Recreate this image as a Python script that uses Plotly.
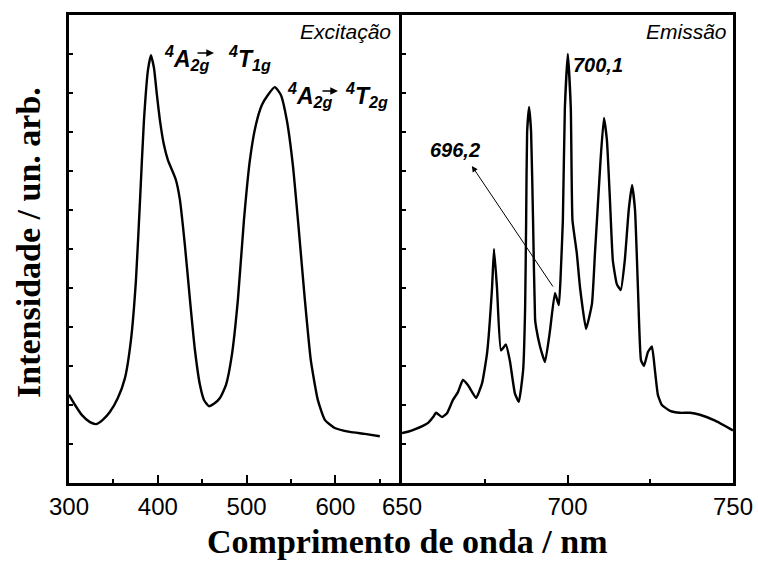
import plotly.graph_objects as go

# Excitation spectrum (left panel)
exc_wl = [300, 306.8, 314.6, 323.6, 330.4, 338, 346, 355, 363, 369.8, 375.4, 380, 384.4, 389, 392.3,
          395.7, 399, 402.4, 406.9, 411.4, 415.9, 420.4, 424.9, 430.5, 436.2, 441.8, 447.5, 452, 457.6,
          463.2, 470, 476.7, 483.4, 490.2, 497, 503.7, 510.4, 517.2, 524, 531.8, 538.6, 545.3, 552.1,
          558.8, 565.6, 572.3, 580.2, 588.1, 599.3, 616.2, 633.1, 650]
exc_int = [2.26, 2.0, 1.74, 1.56, 1.51, 1.62, 1.82, 2.18, 2.69, 3.67, 5.2, 7.26, 9.3, 10.6, 10.97,
           10.64, 9.95, 9.3, 8.67, 8.28, 8.03, 7.77, 7.26, 6.1, 4.7, 3.41, 2.51, 2.13, 1.97,
           2.03, 2.18, 2.51, 3.28, 4.7, 6.74, 8.28, 9.18, 9.69, 9.95, 10.15, 9.95, 9.3, 8.15,
           6.49, 4.7, 3.15, 2.13, 1.62, 1.41, 1.31, 1.26, 1.2]

# Emission spectrum (right panel)
emi_wl = [650, 652, 654, 656, 658, 659.4, 660.3, 662.1, 663.6, 665.4, 666.9, 668.4, 670, 672.4,
          674.2, 675.7, 677.2, 677.8, 678.7, 679.9, 681.4, 682.6, 684.1, 685.3, 686.6, 687.2, 687.5,
          687.8, 688.4, 689.0, 689.6, 690.2, 690.5, 691.7, 693.2, 694.7, 696.2, 697.4, 698.0, 698.6,
          699.2, 700.1, 701.0, 701.5, 702.8, 703.8, 705.6, 707.4, 708.3, 708.9, 710.0, 711.0, 711.9,
          712.8, 713.7, 714.9, 716.1, 717.3, 718.5, 719.5, 720.4, 721.3, 722.2, 723.1, 724.3, 725.5,
          726.4, 727.3, 728.5, 731, 734, 737, 740, 744.6, 750]
emi_int = [1.28, 1.32, 1.38, 1.45, 1.55, 1.69, 1.80, 1.69, 1.79, 2.13, 2.33, 2.64, 2.5, 2.18,
           2.56, 3.33, 5.0, 6.0, 5.0, 3.4, 3.55, 3.13, 2.3, 2.08, 2.9, 4.5, 6.7,
           9.0, 9.64, 9.0, 6.7, 4.2, 4.0, 3.5, 3.1, 3.9, 4.87, 4.56, 5.46, 6.74,
           9.6, 11.0, 9.6, 6.74, 5.9, 5.0, 3.95, 4.6, 5.9, 6.74, 8.3, 9.36, 8.8,
           7.3, 5.7, 5.1, 4.95, 5.7, 7.0, 7.64, 7.0, 4.95, 3.15, 3.0, 3.36, 3.5,
           2.9, 2.26, 2.0, 1.85, 1.8, 1.8, 1.75, 1.6, 1.35]

exc_ticks = [300, 400, 500, 600]
emi_ticks = [650, 700, 750]

W, H = 758, 564
L, R, T, B = 69, 733, 15, 483
split = (402 - L) / (R - L)


def px(x):
    return (x - L) / (R - L)


def py(y):
    return (B - y) / (B - T)


fig = go.Figure()
fig.add_trace(go.Scatter(x=exc_wl, y=exc_int, mode="lines", line=dict(color="black", width=2.4, shape="spline", smoothing=0.5),
                         xaxis="x", yaxis="y", showlegend=False))
fig.add_trace(go.Scatter(x=emi_wl, y=emi_int, mode="lines", line=dict(color="black", width=2.4, shape="spline", smoothing=0.4),
                         xaxis="x2", yaxis="y2", showlegend=False))

tickfont = dict(family="Arial, Liberation Sans, sans-serif", size=24, color="black")
axis_common = dict(showline=True, linecolor="black", linewidth=2.5, ticks="inside", tickcolor="black",
                   tickwidth=2, showgrid=False, zeroline=False, automargin=False)

fig.update_layout(
    width=W, height=H, margin=dict(l=L, r=W - R, t=T, b=H - B, autoexpand=False),
    paper_bgcolor="white", plot_bgcolor="white",
    xaxis=dict(domain=[0, split], range=[300, 675], tickvals=exc_ticks, ticklen=8, tickfont=tickfont,
               minor=dict(ticks="inside", dtick=50, tick0=300, ticklen=4, tickwidth=2, tickcolor="black"),
               mirror=True, anchor="y", **axis_common),
    xaxis2=dict(domain=[split, 1], range=[650, 750], tickvals=emi_ticks, ticklen=8, tickfont=tickfont,
                minor=dict(ticks="inside", dtick=25, tick0=650, ticklen=4, tickwidth=2, tickcolor="black"),
                mirror=True, anchor="y2", **axis_common),
    yaxis=dict(range=[0, 12], dtick=1, ticklen=4, showticklabels=False, mirror=False, anchor="x", **axis_common),
    yaxis2=dict(range=[0, 12], dtick=1, ticklen=4, showticklabels=False, mirror=True, anchor="x2", **axis_common),
)

sans_i = dict(family="Arial, Liberation Sans, sans-serif", size=21, color="black")
ann = []
ann.append(dict(text="<i>Excitação</i>", x=px(393), y=py(32), xanchor="right", yanchor="middle", font=sans_i))
ann.append(dict(text="<i>Emissão</i>", x=px(729), y=py(32), xanchor="right", yanchor="middle", font=sans_i))

bi = dict(family="Arial, Liberation Sans, sans-serif", size=23, color="black")
ann.append(dict(text="<b><i><sup>4</sup>A<sub>2g</sub></i></b>", x=px(162), y=py(58), xanchor="left", yanchor="middle", font=bi))
ann.append(dict(text="<b><i><sup>4</sup>T<sub>1g</sub></i></b>", x=px(226), y=py(58), xanchor="left", yanchor="middle", font=bi))
ann.append(dict(text="<b><i><sup>4</sup>A<sub>2g</sub></i></b>", x=px(285), y=py(95), xanchor="left", yanchor="middle", font=bi))
ann.append(dict(text="<b><i><sup>4</sup>T<sub>2g</sub></i></b>", x=px(343), y=py(95), xanchor="left", yanchor="middle", font=bi))

lab = dict(family="Arial, Liberation Sans, sans-serif", size=20, color="black")
ann.append(dict(text="<b><i>700,1</i></b>", x=px(598), y=py(65), xanchor="center", yanchor="middle", font=lab))
ann.append(dict(text="<b><i>696,2</i></b>", x=px(455), y=py(150), xanchor="center", yanchor="middle", font=lab))

for a in ann:
    a.update(xref="paper", yref="paper", showarrow=False)

# small transition arrows inside the term labels
for (x0, x1, yy) in [(196, 214, 53), (321, 338, 91)]:
    ann.append(dict(x=px(x1), y=py(yy), xref="paper", yref="paper", ax=x0 - x1, ay=0, text="",
                    showarrow=True, arrowhead=2, arrowsize=1.1, arrowwidth=1.4, arrowcolor="black"))

# arrow pointing to the 696.2 shoulder
ann.append(dict(x=671.1, y=8.13, xref="x2", yref="y2", ax=695.9, ay=5.0, axref="x2", ayref="y2",
                showarrow=True, arrowhead=2, arrowsize=1.2, arrowwidth=1, arrowcolor="black", text=""))

serif_b = dict(family="Times New Roman, Liberation Serif, serif", size=34, color="black")
ann.append(dict(text="<b>Comprimento de onda / nm</b>", x=px(407), y=py(541), xref="paper", yref="paper",
                xanchor="center", yanchor="middle", showarrow=False, font=serif_b))
ann.append(dict(text="<b>Intensidade / un. arb.</b>", x=px(28), y=py(243), xref="paper", yref="paper",
                xanchor="center", yanchor="middle", showarrow=False, textangle=-90, font=serif_b))

fig.update_layout(annotations=ann)
fig.write_html("out.html")
